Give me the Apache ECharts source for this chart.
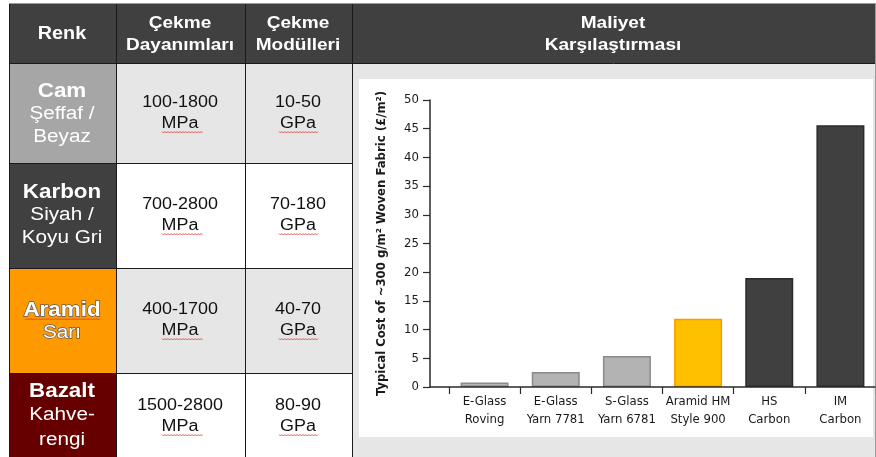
<!DOCTYPE html>
<html><head><meta charset="utf-8">
<script src="https://cdn.jsdelivr.net/npm/echarts@6/dist/echarts.min.js"></script>
<style>html,body{margin:0;padding:0;background:#fff}#c{width:876px;height:457px}</style>
</head><body><div id="c"></div>
<script>
// ---- data ----
const headers = ['Renk', 'Çekme\nDayanımları', 'Çekme\nModülleri', 'Maliyet\nKarşılaştırması'];
const materials = ['Cam', 'Karbon', 'Aramid', 'Bazalt'];
const colourNames = [['Şeffaf /', 'Beyaz'], ['Siyah /', 'Koyu Gri'], ['Sarı'], ['Kahve-', 'rengi']];
const strengths = ['100-1800', '700-2800', '400-1700', '1500-2800'];
const strengthUnit = 'MPa';
const moduli = ['10-50', '70-180', '40-70', '80-90'];
const modulusUnit = 'GPa';
const categories = ['E-Glass\nRoving', 'E-Glass\nYarn 7781', 'S-Glass\nYarn 6781', 'Aramid HM\nStyle 900', 'HS\nCarbon', 'IM\nCarbon'];
const costs = [0.8, 2.6, 5.4, 11.9, 19.0, 45.6];
const yMin = 0, yMax = 50, yStep = 5;
const yAxisTitle = 'Typical Cost of ~300 g/m² Woven Fabric (£/m²)';

// ---- styles ----
const renkFills = ['#a6a6a6', '#404040', '#ff9900', '#660000'];
const barFills = ['#b3b3b3', '#b3b3b3', '#b3b3b3', '#ffc000', '#404040', '#404040'];
const barBorders = ['#8a8a8a', '#8a8a8a', '#8a8a8a', '#ff9900', '#2b2b2b', '#2b2b2b'];

const FONT = '"Liberation Sans", Arial, sans-serif';
const NARROW = '"Liberation Sans Narrow", "Arial Narrow", "DejaVu Sans Condensed", sans-serif';

const cols = [9, 116, 245, 352, 875];
const rows = [3, 63, 163, 268, 373, 462];
const els = [];
function rect(x, y, w, h, fill, z) { els.push({type: 'rect', silent: true, z: z || 0, shape: {x, y, width: w, height: h}, style: {fill}}); }
function line(x1, y1, x2, y2, c, w) { els.push({type: 'line', silent: true, z: 2, shape: {x1, y1, x2, y2}, style: {stroke: c || '#1a1a1a', lineWidth: w || 1}}); }
function text(t, x, y, font, fill, sx, extra) {
  els.push({type: 'text', silent: true, z: 3, x, y, scaleX: sx || 1,
    style: Object.assign({text: t, x: 0, y: 0, font, fill, align: 'center', textAlign: 'center', verticalAlign: 'middle', textVerticalAlign: 'middle'}, extra || {})});
}
function squiggle(x0, x1, y) {
  const pts = [];
  for (let x = x0, k = 0; x <= x1; x += 1.5, k++) pts.push([x, y + (k % 2 ? 1 : -0.5)]);
  els.push({type: 'polyline', silent: true, z: 4, shape: {points: pts}, style: {stroke: '#e03030', lineWidth: 0.8, fill: null}});
}

// header
rect(cols[0], rows[0], cols[4] - cols[0], rows[1] - rows[0], '#404040');
// Maliyet column body
rect(cols[3], rows[1], cols[4] - cols[3], 457 - rows[1], '#e6e6e6');
rect(359, 79, 514, 358, '#ffffff', 1);
// rows
for (let i = 0; i < 4; i++) {
  const y0 = rows[i + 1], h = rows[i + 2] - y0;
  rect(cols[0], y0, cols[1] - cols[0], h, renkFills[i]);
  const f = i % 2 === 0 ? '#e6e6e6' : '#ffffff';
  rect(cols[1], y0, cols[2] - cols[1], h, f);
  rect(cols[2], y0, cols[3] - cols[2], h, f);
}
// grid lines
for (let i = 1; i < 5; i++) line(cols[0], rows[i] + 0.5, cols[3], rows[i] + 0.5, '#1a1a1a');
line(cols[3], rows[1] + 0.5, cols[4], rows[1] + 0.5, '#1a1a1a');
for (let j = 0; j < 5; j++) line(cols[j] + 0.5, rows[0], cols[j] + 0.5, 457, j === 4 ? '#9a9a9a' : '#1a1a1a');
line(cols[0], rows[0] + 0.5, cols[4], rows[0] + 0.5, '#9a9a9a');

// header texts
const hc = [62, 180, 298, 613];
headers.forEach((h, j) => {
  const parts = h.split('\n');
  if (parts.length === 1) text(parts[0], hc[j], 34, 'bold 18px ' + FONT, '#ffffff', 1.1);
  else { text(parts[0], hc[j], 23, 'bold 17px ' + FONT, '#ffffff', 1.12); text(parts[1], hc[j], 45, 'bold 17px ' + FONT, '#ffffff', 1.12); }
});

// body texts
const matY = [[91, 114, 137], [192, 215, 238], [310, 333], [391, 415, 440]];
const dataY = [[103, 124], [205, 226], [310, 331], [406, 427]];
materials.forEach((m, i) => {
  const extra = i === 2 ? {stroke: '#5a5a5a', lineWidth: 1.3} : {};
  text(m, 62, matY[i][0], 'bold 20px ' + FONT, '#ffffff', 1.12, extra);
  colourNames[i].forEach((c, k) => text(c, 62, matY[i][k + 1], '18px ' + FONT, '#ffffff', 1.15, extra));
  text(strengths[i], 180, dataY[i][0], '16px ' + FONT, '#111111', 1.12);
  text(strengthUnit, 180, dataY[i][1], '16px ' + FONT, '#111111', 1.12);
  text(moduli[i], 298, dataY[i][0], '16px ' + FONT, '#111111', 1.12);
  text(modulusUnit, 298, dataY[i][1], '16px ' + FONT, '#111111', 1.12);
  squiggle(162, 203, dataY[i][1] + 8);
  squiggle(279, 318, dataY[i][1] + 8);
});
squiggle(25, 100, matY[2][0] + 9);

const axisCol = '#2a2a2a';
const option = {
  animation: false,
  backgroundColor: '#ffffff',
  graphic: {elements: els},
  grid: [
    {left: 449, top: 100, width: 429, height: 287},
    {left: 430, top: 100, width: 445, height: 287}
  ],
  xAxis: [
    {type: 'category', gridIndex: 0, data: categories, z: 5,
     axisLine: {show: false},
     axisTick: {show: true, length: 7, lineStyle: {color: axisCol, width: 1.2}},
     axisLabel: {interval: 0, margin: 6, fontFamily: NARROW, fontSize: 13, lineHeight: 18, color: '#1a1a1a'}},
    {type: 'value', gridIndex: 1, min: 0, max: 1, z: 5,
     axisLine: {show: true, lineStyle: {color: axisCol, width: 1.5}},
     axisTick: {show: false}, axisLabel: {show: false}, splitLine: {show: false}}
  ],
  yAxis: [
    {type: 'value', gridIndex: 0, min: yMin, max: yMax, interval: yStep, show: false},
    {type: 'value', gridIndex: 1, min: yMin, max: yMax, interval: yStep, z: 5,
     axisLine: {show: true, lineStyle: {color: axisCol, width: 1.5}},
     axisTick: {show: true, length: 7, lineStyle: {color: axisCol, width: 1.2}},
     axisLabel: {margin: 11, fontFamily: NARROW, fontSize: 13, color: '#1a1a1a'},
     splitLine: {show: false},
     name: yAxisTitle, nameLocation: 'middle', nameRotate: 90, nameGap: 42,
     nameTextStyle: {fontFamily: NARROW, fontWeight: 'bold', fontSize: 13, color: '#1a1a1a'}}
  ],
  series: [{
    type: 'bar', xAxisIndex: 0, yAxisIndex: 0, z: 4, barWidth: 48,
    data: costs.map((v, i) => ({value: v, itemStyle: {color: barFills[i], borderColor: barBorders[i], borderWidth: 1.5}}))
  }]
};
echarts.init(document.getElementById('c'), null, {renderer: 'canvas'}).setOption(option);
</script></body></html>
